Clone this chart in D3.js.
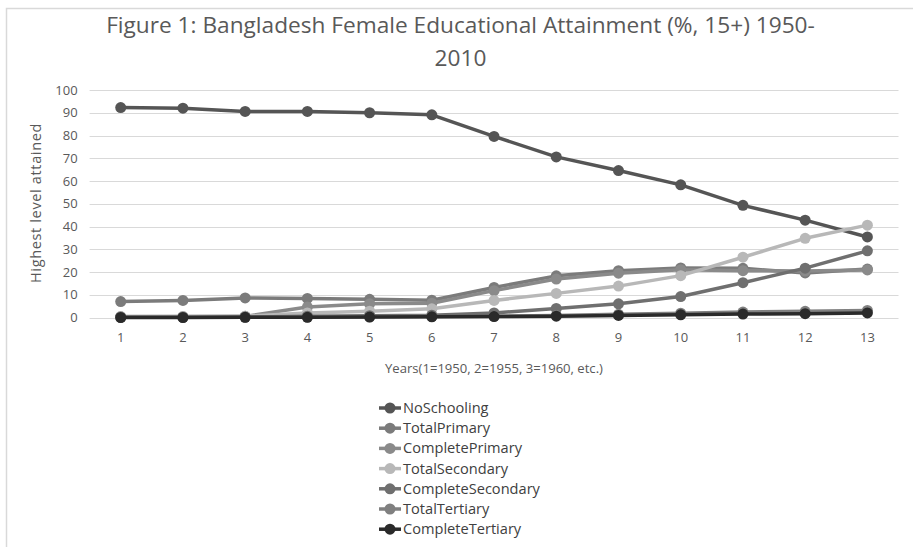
<!DOCTYPE html>
<html>
<head>
<meta charset="utf-8">
<script src="https://cdn.jsdelivr.net/npm/d3@7"></script>
<style>
  html, body { margin: 0; padding: 0; background: #fff; }
  svg { display: block; font-family: "Open Sans", "Noto Sans", sans-serif; }
</style>
</head>
<body>
<svg id="chart" width="913" height="547"></svg>
<script>
// Years: 1=1950, 2=1955, ... 13=2010
const categories = ["1","2","3","4","5","6","7","8","9","10","11","12","13"];
const yTicks = [0,10,20,30,40,50,60,70,80,90,100];

const seriesNames = ["NoSchooling","TotalPrimary","CompletePrimary","TotalSecondary","CompleteSecondary","TotalTertiary","CompleteTertiary"];
const noSchooling       = [92.3, 92.0, 90.6, 90.6, 90.0, 89.1, 79.6, 70.6, 64.6, 58.3, 49.3, 42.8, 35.4];
const totalPrimary      = [7.0, 7.5, 8.6, 8.4, 8.0, 7.6, 13.2, 18.3, 20.6, 21.8, 21.6, 19.6, 21.3];
const completePrimary   = [0.4, 0.4, 0.5, 4.6, 6.0, 6.3, 11.8, 16.9, 19.5, 21.0, 20.6, 20.4, 20.9];
const totalSecondary    = [0.3, 0.4, 0.6, 2.0, 2.8, 3.8, 7.5, 10.6, 13.8, 18.4, 26.5, 34.8, 40.6];
const completeSecondary = [0.1, 0.1, 0.2, 0.6, 0.8, 1.0, 2.0, 4.0, 6.0, 9.2, 15.3, 21.7, 29.3];
const totalTertiary     = [0.1, 0.1, 0.1, 0.2, 0.3, 0.4, 0.6, 0.9, 1.4, 1.9, 2.4, 2.7, 3.1];
const completeTertiary  = [0.0, 0.0, 0.1, 0.1, 0.2, 0.3, 0.4, 0.6, 0.9, 1.2, 1.5, 1.7, 2.0];
const seriesValues = [noSchooling, totalPrimary, completePrimary, totalSecondary, completeSecondary, totalTertiary, completeTertiary];
const seriesColors = ["#555555","#7b7b7b","#8a8a8a","#b8b8b8","#6f6f6f","#808080","#2a2a2a"];

const svg = d3.select("#chart");
const textColor = "#595959";

// outer frame
svg.append("rect").attr("x", 6.5).attr("y", 8.5).attr("width", 1000).attr("height", 1000)
  .attr("fill", "none").attr("stroke", "#d9d9d9").attr("stroke-width", 1.5);

const plot = { left: 89.6, right: 898.5, top: 90, bottom: 317.5 };

const x = d3.scaleBand().domain(categories).range([plot.left, plot.right]);
const y = d3.scaleLinear().domain([0, 100]).range([plot.bottom, plot.top]);
const cx = d => x(d) + x.bandwidth() / 2;

// fit a text element's font size so that it spans the given width
function fitWidth(sel, width) {
  const node = sel.node();
  const base = parseFloat(sel.style("font-size"));
  const w = node.getComputedTextLength();
  sel.style("font-size", (base * width / w).toFixed(2) + "px");
}
// keep the font size, widen the letter spacing to span the given width
function spreadWidth(sel, width) {
  const node = sel.node();
  const n = sel.text().length;
  const w = node.getComputedTextLength();
  sel.style("letter-spacing", ((width - w) / n).toFixed(2) + "px");
}

// title (two lines)
const t1 = svg.append("text").attr("x", 460.5).attr("y", 33).attr("text-anchor", "middle")
  .attr("fill", textColor).style("font-size", "20px")
  .text("Figure 1: Bangladesh Female Educational Attainment (%, 15+) 1950-");
fitWidth(t1, 709);
svg.append("text").attr("x", 460.5).attr("y", 66).attr("text-anchor", "middle")
  .attr("fill", textColor).style("font-size", t1.style("font-size"))
  .text("2010");

// gridlines
svg.append("g").selectAll("line").data(yTicks).join("line")
  .attr("x1", plot.left).attr("x2", plot.right)
  .attr("y1", d => Math.round(y(d)) + 0.5).attr("y2", d => Math.round(y(d)) + 0.5)
  .attr("stroke", "#d9d9d9").attr("stroke-width", 1);

// y axis
const yAxis = svg.append("g").attr("transform", `translate(${plot.left},0)`)
  .call(d3.axisLeft(y).tickValues(yTicks).tickSize(0).tickPadding(12));
yAxis.select(".domain").remove();
yAxis.selectAll("text").attr("fill", textColor).style("font-size", "13px").style("font-family", "'Open Sans', sans-serif");

// x axis
const xAxis = svg.append("g").attr("transform", `translate(0,${plot.bottom})`)
  .call(d3.axisBottom(x).tickSize(0).tickPadding(15));
xAxis.select(".domain").remove();
xAxis.selectAll("text").attr("fill", textColor).style("font-size", "13px").style("font-family", "'Open Sans', sans-serif");

// axis titles
const xt = svg.append("text").attr("x", 494).attr("y", 373).attr("text-anchor", "middle")
  .attr("fill", textColor).style("font-size", "13px")
  .text("Years(1=1950, 2=1955, 3=1960, etc.)");
fitWidth(xt, 218);
const yt = svg.append("text").attr("transform", "translate(41,203) rotate(-90)").attr("text-anchor", "middle")
  .attr("fill", textColor).style("font-size", "14.5px")
  .text("Highest level attained");
spreadWidth(yt, 160);

// series
const line = d3.line().x((d, i) => cx(categories[i])).y(d => y(d));
const gSeries = svg.append("g");
seriesValues.forEach((vals, s) => {
  const g = gSeries.append("g");
  g.append("path").datum(vals).attr("d", line).attr("fill", "none")
    .attr("stroke", seriesColors[s]).attr("stroke-width", 3.5).attr("stroke-linejoin", "round");
  g.selectAll("circle").data(vals).join("circle")
    .attr("cx", (d, i) => cx(categories[i])).attr("cy", d => y(d)).attr("r", 5.5)
    .attr("fill", seriesColors[s]);
});

// legend
const legend = svg.append("g");
seriesNames.forEach((name, i) => {
  const ly = 408 + i * 20.2;
  legend.append("line").attr("x1", 379).attr("x2", 401).attr("y1", ly).attr("y2", ly)
    .attr("stroke", seriesColors[i]).attr("stroke-width", 3.5);
  legend.append("circle").attr("cx", 390).attr("cy", ly).attr("r", 5.5).attr("fill", seriesColors[i]);
  legend.append("text").attr("x", 403).attr("y", ly + 5).attr("fill", "#404040")
    .style("font-size", "14.6px").text(name);
});
</script>
</body>
</html>
